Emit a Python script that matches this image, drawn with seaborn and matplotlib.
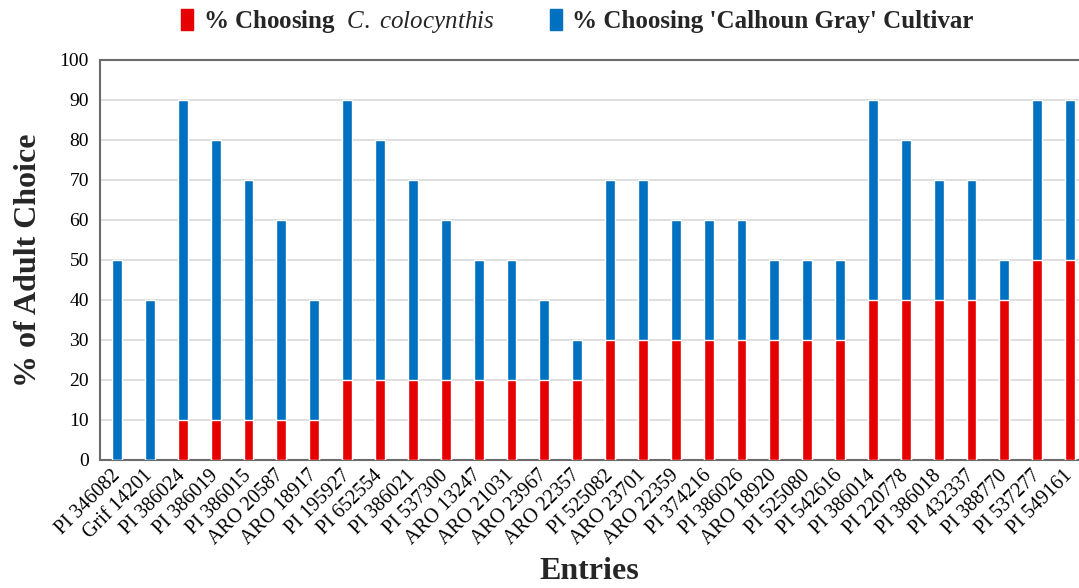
import matplotlib
matplotlib.use("Agg")
import matplotlib.pyplot as plt
import seaborn as sns
import pandas as pd
from matplotlib.patches import Patch
from matplotlib.transforms import ScaledTranslation

entries = ["PI 346082", "Grif 14201", "PI 386024", "PI 386019", "PI 386015",
           "ARO 20587", "ARO 18917", "PI 195927", "PI 652554", "PI 386021",
           "PI 537300", "ARO 13247", "ARO 21031", "ARO 23967", "ARO 22357",
           "PI 525082", "ARO 23701", "ARO 22359", "PI 374216", "PI 386026",
           "ARO 18920", "PI 525080", "PI 542616", "PI 386014", "PI 220778",
           "PI 386018", "PI 432337", "PI 388770", "PI 537277", "PI 549161"]
colocynthis = [0, 0, 10, 10, 10, 10, 10, 20, 20, 20, 20, 20, 20, 20, 20,
               30, 30, 30, 30, 30, 30, 30, 30, 40, 40, 40, 40, 40, 50, 50]
calhoun = [50, 40, 80, 70, 60, 50, 30, 70, 60, 50, 40, 30, 30, 20, 10,
           40, 40, 30, 30, 30, 20, 20, 20, 50, 40, 30, 30, 10, 40, 40]

df = pd.DataFrame({"entry": entries, "col": colocynthis, "cal": calhoun})
df["total"] = df["col"] + df["cal"]

RED = "#E60000"
BLUE = "#0070C0"

sns.set_theme(style="white")
plt.rcParams["font.family"] = ["Liberation Serif", "DejaVu Serif"]
plt.rcParams["mathtext.fontset"] = "custom"
plt.rcParams["mathtext.it"] = "Liberation Serif:italic"
plt.rcParams["mathtext.rm"] = "Liberation Serif"

fig = plt.figure(figsize=(10.79, 5.88), dpi=100)
ax = fig.add_axes([0.0927, 0.2177, 0.9073, 0.6803])

sns.barplot(data=df, x="entry", y="total", color=BLUE, width=0.3,
            saturation=1, ax=ax, order=entries, zorder=3)
sns.barplot(data=df, x="entry", y="col", color=RED, width=0.3,
            saturation=1, ax=ax, order=entries, zorder=4)

ax.set_ylim(0, 100)
ax.set_yticks(range(0, 101, 10))
ax.set_xlim(-0.52, 29.27)
ax.yaxis.grid(True, color="#d9d9d9", linewidth=1.2, zorder=0)
ax.set_axisbelow(True)
for s in ["left", "bottom", "top"]:
    ax.spines[s].set_color("#6b6b6b")
    ax.spines[s].set_linewidth(1.5)
ax.spines["right"].set_visible(False)
ax.tick_params(axis="y", length=0, labelsize=14, colors="black", pad=8)
ax.tick_params(axis="x", length=0, labelsize=14.5, colors="black", pad=2)
offset = ScaledTranslation(0.0, -0.1, fig.dpi_scale_trans)
for lab in ax.get_xticklabels():
    lab.set_rotation(45)
    lab.set_ha("right")
    lab.set_va("center")
    lab.set_rotation_mode("anchor")
    lab.set_transform(lab.get_transform() + offset)

ax.set_ylabel("% of Adult Choice", fontsize=23, fontweight="bold", labelpad=12)
ax.set_xlabel("Entries", fontsize=23, fontweight="bold")
ax.xaxis.set_label_coords(0.5, -0.243)

handles = [Patch(color=RED), Patch(color=BLUE)]
labels = [r"% Choosing  $C.\ colocynthis$", "% Choosing 'Calhoun Gray' Cultivar"]
fig.legend(handles, labels, loc="center", bbox_to_anchor=(0.535, 0.963), ncol=2,
           frameon=False, handlelength=0.5, handleheight=0.9, handletextpad=0.4,
           columnspacing=2.2, prop={"weight": "bold", "size": 18})

fig.savefig("out.png", dpi=100)
